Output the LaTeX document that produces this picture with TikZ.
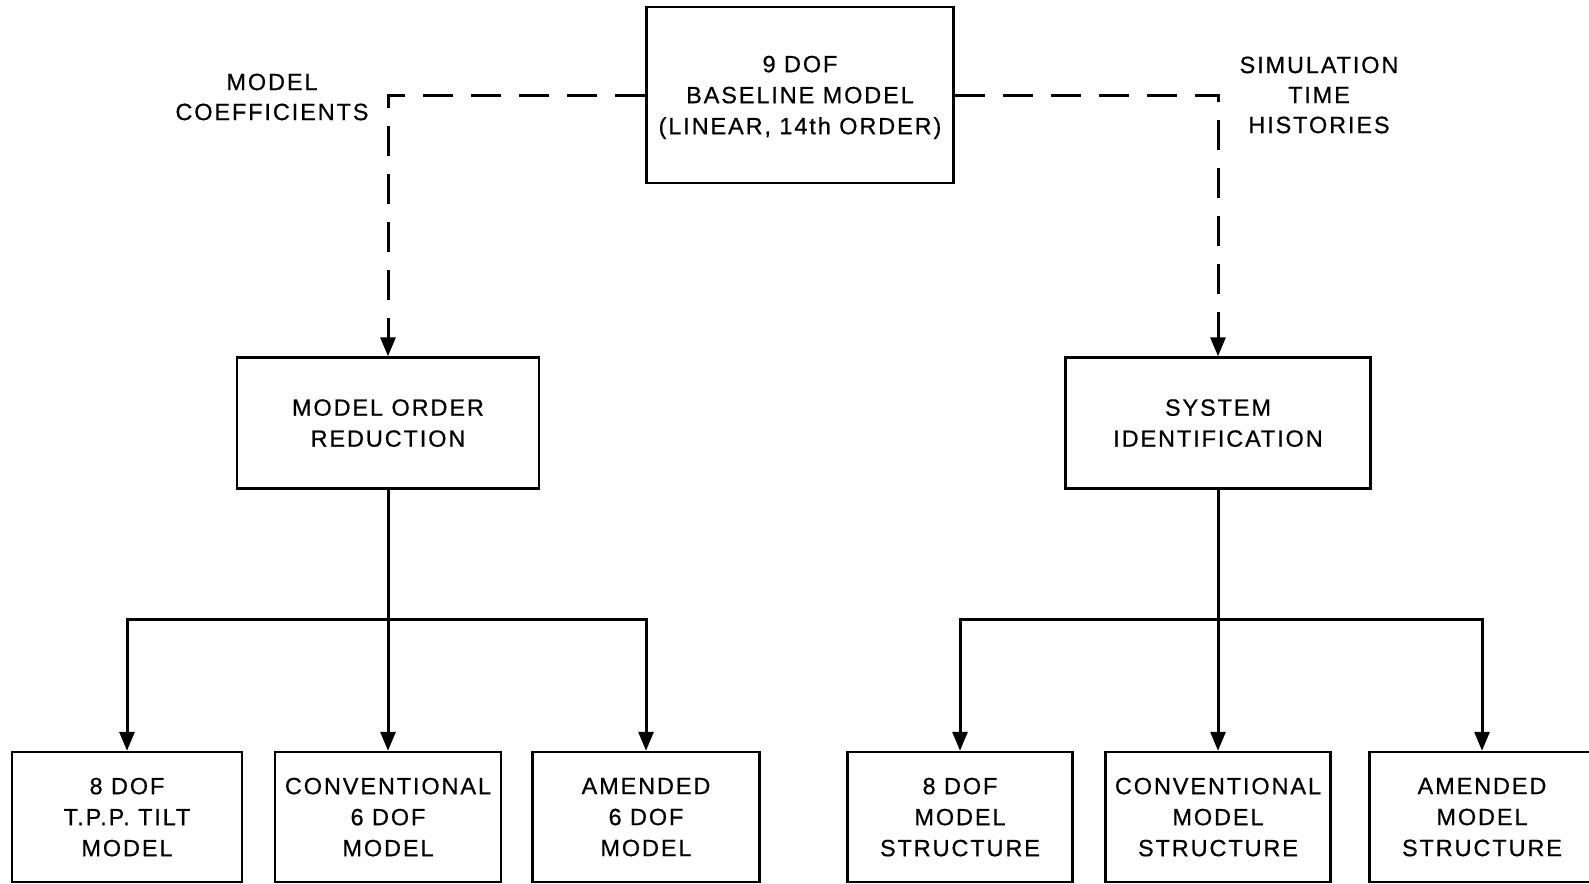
\documentclass[tikz,border=0pt]{standalone}
\usepackage{fontspec}
\setmainfont[LetterSpace=8,FakeBold=0.6]{Liberation Sans}
\usetikzlibrary{arrows.meta}

\tikzset{
  blk/.style={draw, line width=2.4pt, align=center, text depth=0pt, font=\fontsize{23.5}{31}\selectfont},
  lbl/.style={align=center, font=\fontsize{23.5}{30}\selectfont},
  conn/.style={line width=3pt, -{Triangle[length=19pt,width=15pt]}},
  dashconn/.style={conn, dash pattern=on 30pt off 18pt}
}

\begin{document}
\begin{tikzpicture}[x=1pt, y=-1pt]

\useasboundingbox (0,0) rectangle (1589,883);

% Baseline model (top)
\node[blk, minimum width=307pt, minimum height=176pt] (base) at (800,95) {9 DOF\\BASELINE MODEL\\(LINEAR, 14th ORDER)};

% Second level
\node[blk, minimum width=302pt, minimum height=131pt] (mor) at (388,423) {MODEL ORDER\\REDUCTION};
\node[blk, minimum width=305pt, minimum height=131pt] (sid) at (1218,423) {SYSTEM\\IDENTIFICATION};

% Dashed links with labels
\node[lbl] (coef) at (272,97) {MODEL\\COEFFICIENTS};
\node[lbl] (simu) at (1319,95) {SIMULATION\\TIME\\HISTORIES};
\draw[dashconn] (base.west) -| (mor.north);
\draw[dashconn] (base.east) -| (sid.north);

% Bottom row (left)
\node[blk, minimum width=230pt, minimum height=130pt] (m1) at (127,817) {8 DOF\\T.P.P. TILT\\MODEL};
\node[blk, minimum width=226pt, minimum height=130pt] (m2) at (388,817) {CONVENTIONAL\\6 DOF\\MODEL};
\node[blk, minimum width=227pt, minimum height=130pt] (m3) at (646,817) {AMENDED\\6 DOF\\MODEL};

% Bottom row (right)
\node[blk, minimum width=225pt, minimum height=130pt] (s1) at (960,817) {8 DOF\\MODEL\\STRUCTURE};
\node[blk, minimum width=225pt, minimum height=130pt] (s2) at (1218,817) {CONVENTIONAL\\MODEL\\STRUCTURE};
\node[blk, minimum width=225pt, minimum height=130pt] (s3) at (1482,817) {AMENDED\\MODEL\\STRUCTURE};

% Branching connectors
\coordinate (lsplit) at (388,619);
\coordinate (rsplit) at (1218,619);
\draw[conn] (mor.south) -- (m2.north);
\draw[conn] (lsplit) -| (m1.north);
\draw[conn] (lsplit) -| (m3.north);
\draw[conn] (sid.south) -- (s2.north);
\draw[conn] (rsplit) -| (s1.north);
\draw[conn] (rsplit) -| (s3.north);

\end{tikzpicture}
\end{document}
